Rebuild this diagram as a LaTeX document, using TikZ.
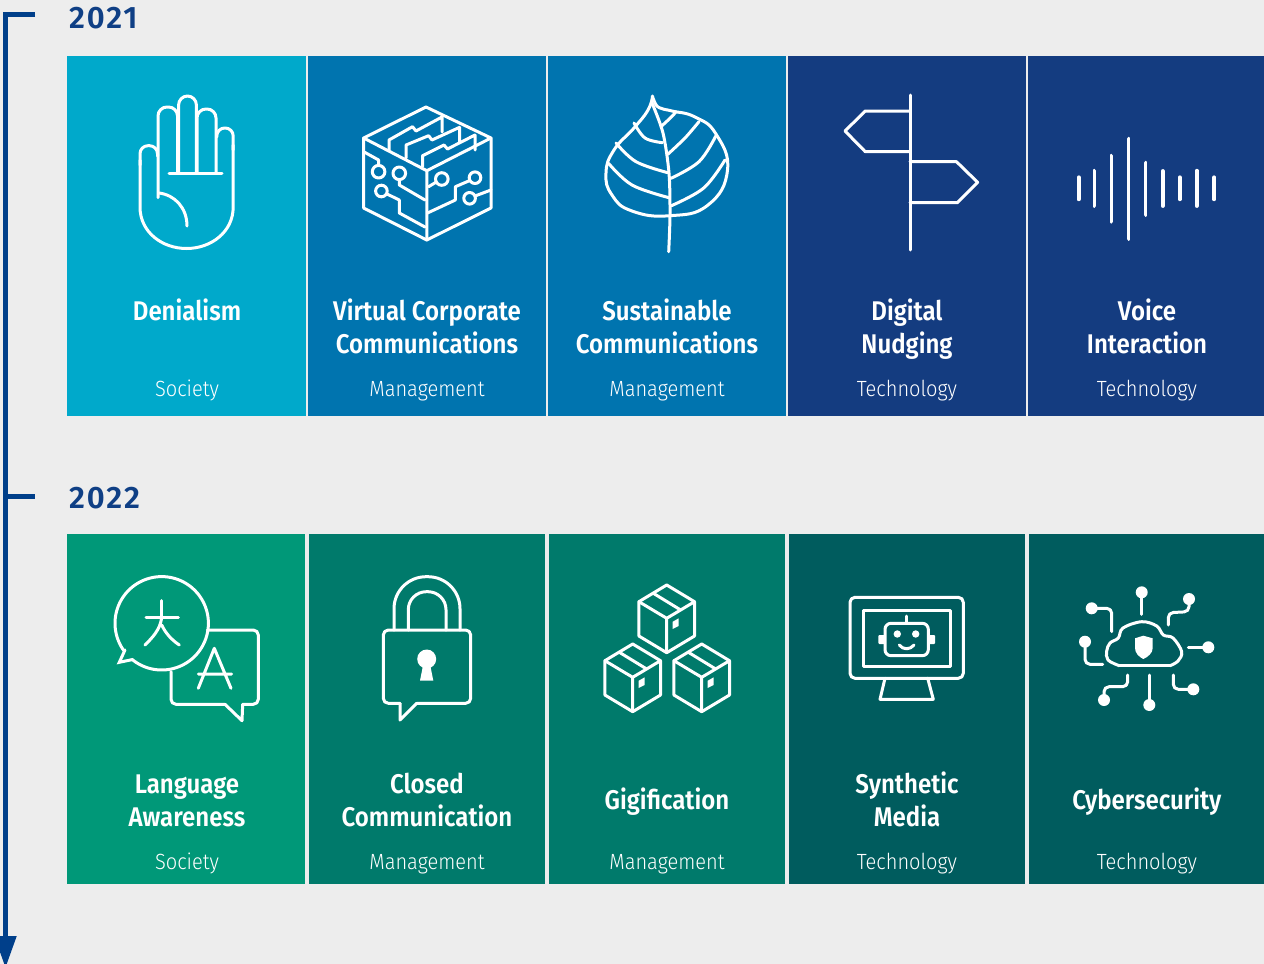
\documentclass[tikz,border=0pt]{standalone}
\usepackage{fontspec}
\usetikzlibrary{arrows.meta}
\newfontfamily\titlefont[FakeStretch=0.89,BoldFont={Fira Sans SemiBold}]{Fira Sans}
\newfontfamily\subfont[FakeStretch=0.91]{Fira Sans Light}
\newfontfamily\yearfont[LetterSpace=6]{Fira Sans SemiBold}
\definecolor{bgc}{HTML}{EDEDED}
\definecolor{lineblue}{HTML}{003F8A}
\definecolor{yearblue}{HTML}{0F3F85}
\definecolor{cA}{HTML}{00A9CB}
\definecolor{cB}{HTML}{0074AF}
\definecolor{cC}{HTML}{143C80}
\definecolor{cD}{HTML}{009878}
\definecolor{cE}{HTML}{007A6B}
\definecolor{cF}{HTML}{005C5E}
\tikzset{
 tile/.style={anchor=north west,inner sep=0pt,outer sep=0pt,draw=none},
 tl/.style={text=white,align=center,inner sep=0pt,font={\titlefont\bfseries\fontsize{27}{33}\selectfont}},
 sb/.style={text=white,inner sep=0pt,text height=16pt,text depth=5pt,font={\subfont\fontsize{22}{26}\selectfont}},
 yr/.style={text=yearblue,anchor=west,inner sep=0pt,font={\yearfont\fontsize{31}{34}\selectfont}},
 tline/.style={draw=lineblue,line width=5pt},
 ic/.style={draw=white,line width=3pt,line cap=round,line join=round},
}
\newcommand{\pkgicon}[2]{%
 \begin{scope}[shift={(#1,#2)}]
  \draw[ic] (0,0)--(-27.8,16.7)--(-27.8,51)--(0,67.7)--(27.8,51)--(27.8,16.7)--cycle;
  \draw[ic] (-27.8,16.7)--(0,33.3)--(27.8,16.7) (0,33.3)--(0,67.7);
  \draw[ic] (-13.5,8.2)--(13.5,24.7);
  \fill[white] (6,36.7)--(12,33.3)--(12,41)--(6,44)--cycle;
 \end{scope}}
\begin{document}
\begin{tikzpicture}[x=1pt,y=-1pt]
\useasboundingbox (0,0) rectangle (1264,964);
\fill[bgc] (0,0) rectangle (1264,964);
% timeline
\coordinate (tlstart) at (35,14.7);
\coordinate (tlcorner) at (5.5,14.7);
\coordinate (tlend) at (5.5,968);
\coordinate (tickA) at (5.5,496);
\coordinate (tickB) at (35,496);
\draw[tline,-{Triangle[length=32pt,width=21pt]}] (tlstart)--(tlcorner)--(tlend);
\draw[tline] (tickA)--(tickB);
\node[yr] (y21) at (69,18.5) {2021};
\node[yr] (y22) at (69,498.5) {2022};
% tiles row 1
\node[tile,fill=cA,minimum width=239pt,minimum height=360pt] (a1) at (67,56) {};
\node[tile,fill=cB,minimum width=238pt,minimum height=360pt] (a2) at (308,56) {};
\node[tile,fill=cB,minimum width=238pt,minimum height=360pt] (a3) at (548,56) {};
\node[tile,fill=cC,minimum width=238pt,minimum height=360pt] (a4) at (788,56) {};
\node[tile,fill=cC,minimum width=236pt,minimum height=360pt] (a5) at (1028,56) {};
% tiles row 2
\node[tile,fill=cD,minimum width=237.5pt,minimum height=350pt] (b1) at (67,534) {};
\node[tile,fill=cE,minimum width=235.3pt,minimum height=350pt] (b2) at (309.3,534) {};
\node[tile,fill=cE,minimum width=236pt,minimum height=350pt] (b3) at (549,534) {};
\node[tile,fill=cF,minimum width=236pt,minimum height=350pt] (b4) at (789,534) {};
\node[tile,fill=cF,minimum width=235pt,minimum height=350pt] (b5) at (1029,534) {};
% titles
\node[tl] (ta1) at (187,313.4) {\strut Denialism};
\node[tl] (ta2) at (427,330) {\strut Virtual Corporate\\\strut Communications};
\node[tl] (ta3) at (667,330) {\strut Sustainable\\\strut Communications};
\node[tl] (ta4) at (907,330) {\strut Digital\\\strut Nudging};
\node[tl] (ta5) at (1147,330) {\strut Voice\\\strut Interaction};
\node[tl] (tb1) at (187,803) {\strut Language\\\strut Awareness};
\node[tl] (tb2) at (427,803) {\strut Closed\\\strut Communication};
\node[tl] (tb3) at (667,802.4) {\strut Gigification};
\node[tl] (tb4) at (907,803) {\strut Synthetic\\\strut Media};
\node[tl] (tb5) at (1147,802.4) {\strut Cybersecurity};
% subtitles
\node[sb] (sa1) at (187,391) {Society};
\node[sb] (sa2) at (427,391) {Management};
\node[sb] (sa3) at (667,391) {Management};
\node[sb] (sa4) at (907,391) {Technology};
\node[sb] (sa5) at (1147,391) {Technology};
\node[sb] (sb1) at (187,864) {Society};
\node[sb] (sb2) at (427,864) {Management};
\node[sb] (sb3) at (667,864) {Management};
\node[sb] (sb4) at (907,864) {Technology};
\node[sb] (sb5) at (1147,864) {Technology};
% hand
\draw[ic,rounded corners=9] (158,197.7)--(158,107)--(177.5,107)--(177.5,173);
\draw[ic,rounded corners=9] (178.6,173)--(178.6,96)--(196.4,96)--(196.4,173);
\draw[ic,rounded corners=9] (197,173)--(197,109)--(216,109)--(216,173);
\draw[ic,rounded corners=8] (216.8,137)--(216.8,128)--(233.2,128)--(233.2,150);
\draw[ic] (233.2,145)--(233.2,207) .. controls (233.2,232) and (211,248.5) .. (186.6,248.5) .. controls (162,248.5) and (140,232) .. (140,207)--(140,160);
\draw[ic,rounded corners=8] (140,165)--(140,145.7)--(157.5,145.7)--(157.5,156);
\draw[ic] (169,173.3)--(222,173.3);
\draw[ic] (159,193) .. controls (175,195) and (187,208) .. (187,226);
% cube
\draw[ic] (426,107)--(363.6,138)--(363.6,208)--(426.8,240)--(491,208)--(491,138)--cycle;
\draw[ic] (363.6,138)--(426.8,170.7)--(491,138) (426.8,170.7)--(426.8,240);
\draw[ic] (389,150)--(389,140)--(412.5,126.7)--(416,131)--(442,117) (442,117)--(442,132);
\draw[ic] (406,158)--(406,145)--(428.6,135.7)--(432,140)--(459.6,127.3) (459.6,127.3)--(459.6,142);
\draw[ic] (422.5,166.7)--(422.5,155.7)--(444,145)--(447.5,149)--(475,135) (475,135)--(475,150);
\draw[ic] (363.6,151.7)--(378.6,160)--(378.6,165);
\draw[ic] (378.6,171.7) circle[radius=6.3];
\draw[ic] (399.3,173.3) circle[radius=6.3];
\draw[ic] (399.3,179.6)--(399.3,185)--(425,200);
\draw[ic] (381.4,191) circle[radius=5.8];
\draw[ic] (387,194)--(399.3,200)--(399.3,213)--(425,227);
\draw[ic] (441.8,179) circle[radius=6.3];
\draw[ic] (428.6,186.7)--(436.3,182);
\draw[ic] (475,177.7) circle[radius=5.8];
\draw[ic] (469.8,180.5)--(455.4,186.7)--(455.4,200)--(427.5,213);
\draw[ic] (469.6,198.3) circle[radius=5.8];
\draw[ic] (475,196)--(491,190);
% leaf
\draw[ic] plot[smooth,tension=.8] coordinates {(652.5,96)(648,110)(634,128)(614,150)(606,173)(612,195)(632,211)(670,215.7)(708,205)(727.5,170)(716,134)(695,117)(672,111)(660,108)(655,103)(652.5,96)};
\draw[ic] plot[smooth,tension=.5] coordinates {(652,103)(663,133)(669,173)(670,215)(668.7,251.7)};
\draw[ic] (661,126.7) .. controls (668,120) and (673,116) .. (676,111.7);
\draw[ic] plot[smooth,tension=.6] coordinates {(634,123)(645,138)(662.4,142.7)};
\draw[ic] plot[smooth,tension=.5] coordinates {(667.8,154.3)(685,138)(699,121.7)};
\draw[ic] plot[smooth,tension=.6] coordinates {(616,143)(636,161.7)(667.8,172.7)};
\draw[ic] plot[smooth,tension=.6] coordinates {(671,178.3)(699,161.7)(715.8,136)};
\draw[ic] plot[smooth,tension=.6] coordinates {(608.5,163.3)(632,185)(669,197.7)};
\draw[ic] plot[smooth,tension=.6] coordinates {(671.4,205.7)(703.7,188)(725,160)};
% signpost
\draw[ic] (910.2,95)--(910.2,250);
\draw[ic] (910,111)--(865.3,111)--(845,131)--(865.3,151.7)--(910,151.7);
\draw[ic] (910,161.7)--(956.5,161.7)--(977.6,182.3)--(957.4,202.7)--(910,202.7);
% sound
\begin{scope}[draw=white,line width=3.8pt,line cap=round]
\draw (1078.6,177.3)--(1078.6,199.3);
\draw (1094.4,170.7)--(1094.4,206);
\draw (1111.4,155.7)--(1111.4,221.7);
\draw (1128.5,138.7)--(1128.5,239);
\draw (1145.5,162.7)--(1145.5,215);
\draw (1162.6,171)--(1162.6,206);
\draw (1179.7,177.3)--(1179.7,199.3);
\draw (1196.7,170.7)--(1196.7,206);
\draw (1214.2,177.3)--(1214.2,199.3);
\end{scope}
% language
\draw[ic,line join=miter] plot[domain=144:489,samples=120] ({161.7+46.7*cos(\x)},{623.3+46.7*sin(\x)}) -- (119.3,662.3) -- (125,650);
\draw[ic] (146,617.7)--(178.3,617.7) (161.7,600.7)--(161.7,617.7);
\draw[ic] (161.7,617.7) .. controls (160,630) and (152,638) .. (145,645);
\draw[ic] (161.7,625) .. controls (166,634) and (172,640) .. (179.3,645);
\draw[ic,rounded corners=5] (207.3,630)--(258.3,630)--(258.3,704.3)--(242.7,704.3);
\draw[ic] (242.7,704.3)--(242,720.7)--(225,704.3);
\draw[ic,rounded corners=5] (225,704.3)--(171,704.3)--(171,671.7);
\draw[ic] (198.3,688.3)--(214.3,648.3)--(231,688.3) (198.3,674)--(231.7,674);
% lock
\draw[ic,rounded corners=5] (416.7,703.3)--(470.7,703.3)--(470.7,630)--(383.3,630)--(383.3,703.3)--(400,703.3);
\draw[ic] (400,703.3)--(400,720)--(416.7,703.3);
\draw[ic,rounded corners=32] (394,630)--(394,576.7)--(460,576.7)--(460,630);
\draw[ic,rounded corners=18] (408.3,630)--(408.3,591.7)--(446,591.7)--(446,630);
\fill[white] (426.7,659) circle[radius=9.5];
\fill[white] (423.3,664)--(420,680.7)--(433.3,680.7)--(430,664)--cycle;
% boxes
\pkgicon{666.7}{585}
\pkgicon{632.7}{644}
\pkgicon{701.7}{644}
% monitor
\draw[ic,rounded corners=5] (850,597.3) rectangle (963.3,678.3);
\draw[ic] (863.3,610.7) rectangle (950,666);
\draw[ic] (885,678.3)--(880,699.3)--(933.3,699.3)--(927.7,678.3);
\draw[ic,rounded corners=6] (885,623.3) rectangle (928.3,655.7);
\draw[ic] (906.7,616)--(906.7,623.3);
\fill[white,rounded corners=1] (878.3,635) rectangle (885,644);
\fill[white,rounded corners=1] (928.3,635) rectangle (935,644);
\fill[white] (897.3,634) circle[radius=3.7] (915.7,634) circle[radius=3.7];
\draw[ic] (899.3,645) .. controls (903,650) and (910,650) .. (914,645);
% cyber
\draw[ic] plot[smooth,tension=.6] coordinates {(1119.3,665.7)(1108,660)(1106.7,651)(1110,643)(1118.3,638)(1123,628)(1141.7,621.7)(1156.7,626)(1163.3,635)(1173,638)(1181.7,651.7)(1178,661)(1170,665.7)};
\draw[ic] (1119.3,665.7)--(1170,665.7);
\fill[white] (1135,638.3)--(1143.3,635.7)--(1152.7,638.3)--(1152.7,648) .. controls (1152.7,653) and (1148,657) .. (1143.3,659) .. controls (1139,657) and (1135,653) .. (1135,648)--cycle;
\draw[ic] (1141.7,592.3)--(1141.7,614.3);
\fill[white] (1141.7,592.3) circle[radius=6];
\draw[ic,rounded corners=5] (1189,599)--(1189,611.7)--(1168.3,612.7)--(1168.3,625);
\fill[white] (1189,599) circle[radius=6];
\draw[ic,rounded corners=5] (1091.7,608.3)--(1111.7,608.3)--(1111.7,631.7);
\fill[white] (1091.7,608.3) circle[radius=6];
\draw[ic,rounded corners=5] (1085,641.7)--(1085,664.3)--(1102.7,664.3);
\fill[white] (1085,641.7) circle[radius=6];
\draw[ic] (1208.3,647.3)--(1188.3,647.3);
\fill[white] (1208.3,647.3) circle[radius=6];
\draw[ic] (1149.3,705)--(1149.3,675);
\fill[white] (1149.3,705) circle[radius=6];
\draw[ic,rounded corners=5] (1173.3,675)--(1173.3,689.3)--(1193.3,689.3);
\fill[white] (1193.3,689.3) circle[radius=6];
\draw[ic,rounded corners=5] (1104,700)--(1104,686.7)--(1127.7,686.7)--(1127.7,675);
\fill[white] (1104,700) circle[radius=6];
\end{tikzpicture}
\end{document}
